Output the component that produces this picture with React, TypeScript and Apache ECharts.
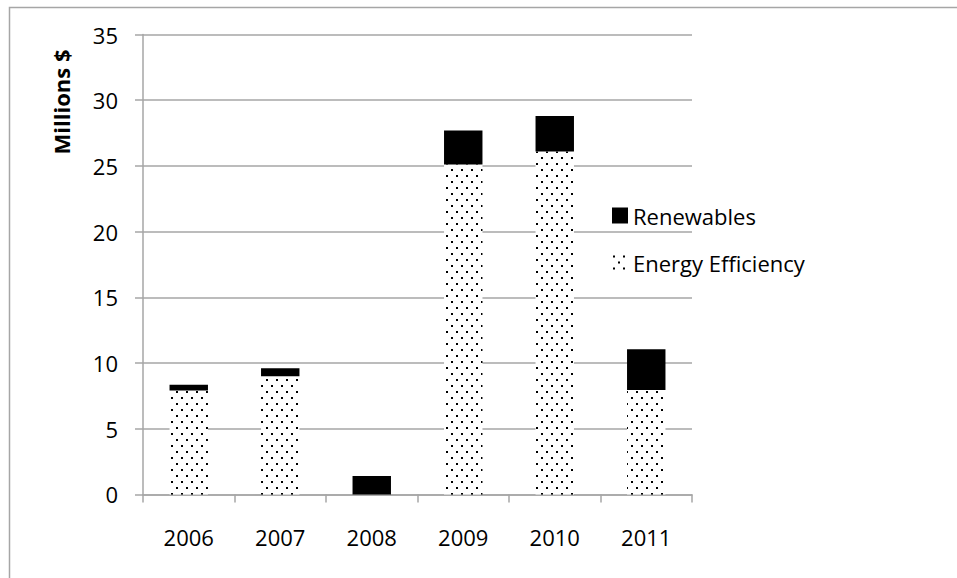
import React, { useEffect, useRef } from "react";
import * as echarts from "echarts";

const categories = ["2006", "2007", "2008", "2009", "2010", "2011"];
const energyEfficiency = [7.9, 9.0, 0, 25.1, 26.1, 7.95];
const renewables = [0.45, 0.6, 1.4, 2.6, 2.7, 3.1];
const yTicks = { min: 0, max: 35, interval: 5 };

function makeDotPattern(): HTMLCanvasElement {
  const c = document.createElement("canvas");
  c.width = 10;
  c.height = 12;
  const ctx = c.getContext("2d")!;
  ctx.fillStyle = "#ffffff";
  ctx.fillRect(0, 0, 10, 12);
  ctx.fillStyle = "#000000";
  ctx.fillRect(1, 1, 2, 2);
  ctx.fillRect(6, 7, 2, 2);
  return c;
}

export default function App() {
  const ref = useRef<HTMLDivElement>(null);
  useEffect(() => {
    if (!ref.current) return;
    const chart = echarts.init(ref.current, undefined, { renderer: "svg" });
    const pattern = {
      image: makeDotPattern(),
      repeat: "repeat",
      imageWidth: 10,
      imageHeight: 12,
    } as any;
    const font = "'Open Sans', sans-serif";
    chart.setOption({
      animation: false,
      backgroundColor: "#ffffff",
      textStyle: { fontFamily: font },
      grid: { left: 143, right: 265, top: 34.5, bottom: 83.6, containLabel: false },
      legend: {
        orient: "vertical",
        left: 607,
        top: 198,
        itemWidth: 16,
        itemHeight: 16,
        itemGap: 22,
        data: ["Renewables", "Energy Efficiency"],
        textStyle: { fontFamily: font, fontSize: 22, color: "#000", lineHeight: 25 },
        icon: "rect",
      },
      xAxis: {
        type: "category",
        data: categories,
        axisLine: { show: true, lineStyle: { color: "#a6a6a6", width: 1.5 } },
        axisTick: { show: true, length: 8, lineStyle: { color: "#a6a6a6", width: 1.5 } },
        axisLabel: { color: "#000", fontSize: 22, margin: 32, fontFamily: font },
      },
      yAxis: {
        type: "value",
        min: yTicks.min,
        max: yTicks.max,
        interval: yTicks.interval,
        axisLine: { show: true, lineStyle: { color: "#a6a6a6", width: 1.5 } },
        axisTick: { show: true, length: 8, lineStyle: { color: "#a6a6a6", width: 1.5 } },
        axisLabel: { color: "#000", fontSize: 22, margin: 25, fontFamily: font },
        splitLine: { show: true, lineStyle: { color: "#a6a6a6", width: 1.5 } },
      },
      graphic: [
        {
          type: "rect",
          left: 7,
          top: 5,
          shape: { x: 0, y: 0, width: 1000, height: 1000 },
          style: { fill: "none", stroke: "#a6a6a6", lineWidth: 1.5 },
          silent: true,
        },
        {
          type: "text",
          x: 61,
          y: 102,
          rotation: Math.PI / 2,
          style: {
            text: "Millions $",
            fontFamily: font,
            fontWeight: "bold",
            fontSize: 22,
            fill: "#000",
            align: "center",
            verticalAlign: "middle",
          },
        },
      ],
      series: [
        {
          name: "Energy Efficiency",
          type: "bar",
          stack: "total",
          data: energyEfficiency,
          barCategoryGap: "58%",
          itemStyle: { color: pattern },
        },
        {
          name: "Renewables",
          type: "bar",
          stack: "total",
          data: renewables,
          barCategoryGap: "58%",
          itemStyle: { color: "#000000" },
        },
      ],
    });
    return () => chart.dispose();
  }, []);
  return (
    <div
      ref={ref}
      style={{ position: "fixed", left: 0, top: 0, width: 957, height: 578 }}
    />
  );
}
